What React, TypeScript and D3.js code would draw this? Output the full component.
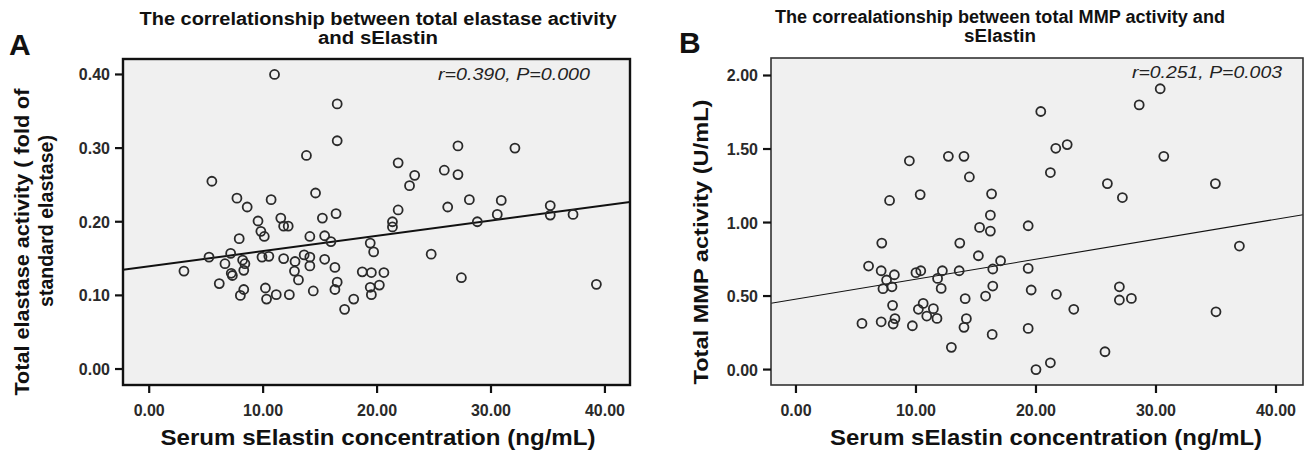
import React from "react";
import * as d3 from "d3";

// ---------- Panel A data: sElastin (ng/mL) vs total elastase activity ----------
const aX = [11.0, 16.5, 16.5, 13.8, 5.5, 7.7, 8.6, 10.7, 14.6, 16.4, 15.2, 11.55, 9.55, 9.8, 10.1, 11.8, 12.2, 7.9, 14.1, 15.4, 15.95, 19.4, 19.7, 5.25, 7.15, 6.65, 7.2, 7.3, 8.2, 8.4, 8.3, 3.05, 6.15, 8.3, 8.0, 9.9, 10.5, 11.8, 12.8, 12.75, 13.1, 13.6, 14.1, 14.1, 15.4, 16.3, 16.5, 16.3, 10.2, 10.3, 11.15, 12.3, 14.4, 17.15, 17.95, 18.7, 19.5, 19.4, 19.5, 20.2, 20.6, 24.75, 27.4, 39.25, 21.35, 21.35, 21.85, 21.85, 23.3, 22.85, 25.9, 27.1, 27.1, 32.1, 28.1, 26.2, 30.9, 30.55, 28.8, 35.2, 35.2, 37.2];
const aY = [0.4, 0.36, 0.31, 0.29, 0.255, 0.232, 0.22, 0.23, 0.239, 0.211, 0.205, 0.205, 0.201, 0.187, 0.18, 0.194, 0.194, 0.177, 0.18, 0.181, 0.173, 0.171, 0.159, 0.152, 0.157, 0.143, 0.13, 0.127, 0.148, 0.143, 0.134, 0.133, 0.116, 0.108, 0.1, 0.152, 0.153, 0.15, 0.146, 0.133, 0.121, 0.155, 0.152, 0.14, 0.149, 0.138, 0.118, 0.108, 0.11, 0.095, 0.101, 0.101, 0.106, 0.081, 0.095, 0.132, 0.131, 0.111, 0.101, 0.114, 0.131, 0.156, 0.124, 0.115, 0.2, 0.193, 0.216, 0.28, 0.263, 0.249, 0.27, 0.264, 0.303, 0.3, 0.23, 0.22, 0.229, 0.21, 0.2, 0.222, 0.209, 0.21];
const aFit = [0.1394, 0.00207]; // intercept, slope
const aTicksX = [0, 10, 20, 30, 40];
const aTicksY = [0, 0.1, 0.2, 0.3, 0.4];

// ---------- Panel B data: sElastin (ng/mL) vs total MMP activity ----------
const bX = [9.45, 12.7, 14.0, 14.45, 7.8, 10.35, 16.3, 16.2, 20.4, 30.35, 28.6, 22.6, 21.65, 21.2, 30.65, 25.95, 27.2, 34.95, 15.3, 16.2, 19.35, 7.15, 13.65, 15.2, 17.05, 6.05, 7.1, 8.2, 7.55, 7.25, 8.0, 10.0, 10.4, 12.2, 11.8, 12.1, 13.6, 16.4, 16.4, 15.8, 14.1, 19.35, 19.6, 8.05, 10.6, 10.2, 11.45, 10.9, 11.75, 5.5, 7.1, 8.25, 8.1, 9.7, 14.2, 14.0, 16.35, 12.95, 19.35, 20.0, 36.95, 21.7, 23.15, 26.95, 26.95, 27.95, 35.0, 25.75, 21.2];
const bY = [1.42, 1.45, 1.45, 1.31, 1.15, 1.19, 1.195, 1.05, 1.755, 1.91, 1.8, 1.53, 1.505, 1.34, 1.45, 1.265, 1.17, 1.265, 0.967, 0.942, 0.978, 0.86, 0.86, 0.774, 0.74, 0.704, 0.672, 0.645, 0.609, 0.55, 0.563, 0.659, 0.672, 0.672, 0.62, 0.552, 0.672, 0.684, 0.568, 0.5, 0.482, 0.688, 0.541, 0.437, 0.45, 0.41, 0.414, 0.364, 0.348, 0.314, 0.325, 0.346, 0.31, 0.298, 0.346, 0.287, 0.239, 0.151, 0.28, 0.0, 0.84, 0.512, 0.41, 0.563, 0.473, 0.484, 0.393, 0.121, 0.046];
const bFit = [0.479, 0.01358];
const bTicksX = [0, 10, 20, 30, 40];
const bTicksY = [0, 0.5, 1.0, 1.5, 2.0];

const FONT = "'Liberation Sans', Arial, Helvetica, sans-serif";

type YTitle = { text: string; x: number; cy: number; len: number };

type PanelProps = {
  xs: number[];
  ys: number[];
  fit: number[];
  xDomain: [number, number];
  yDomain: [number, number];
  left: number;
  right: number;
  top: number;
  bottom: number;
  ticksX: number[];
  ticksY: number[];
  frameW: number;
  frameColor: string;
  lineW: number;
  stat: string;
  statX: number;
  statY: number;
  statLen: number;
  titleLines: string[];
  titleLens: number[];
  titleX: number;
  titleY: number[];
  letter: string;
  letterX: number;
  letterY: number;
  yTitles: YTitle[];
  xTitleX: number;
  xTitleLen: number;
};

function Panel(p: PanelProps) {
  const x = d3.scaleLinear().domain(p.xDomain).range([p.left, p.right]);
  const y = d3.scaleLinear().domain(p.yDomain).range([p.bottom, p.top]);
  const line = d3
    .line<number>()
    .x((v) => x(v))
    .y((v) => y(p.fit[0] + p.fit[1] * v));
  const fitPath = line([p.xDomain[0], p.xDomain[1]]) || "";
  const clipId = "clip-" + p.letter;
  return (
    <g>
      <defs>
        <clipPath id={clipId}>
          <rect x={p.left} y={p.top} width={p.right - p.left} height={p.bottom - p.top} />
        </clipPath>
      </defs>
      <text x={p.letterX} y={p.letterY} fontFamily={FONT} fontWeight="bold" fontSize={30} fill="#111">
        {p.letter}
      </text>
      {p.titleLines.map((t, i) => (
        <text
          key={i}
          x={p.titleX}
          y={p.titleY[i]}
          textAnchor="middle"
          fontFamily={FONT}
          fontWeight="bold"
          fontSize={18}
          fill="#111"
          textLength={p.titleLens[i]}
          lengthAdjust="spacingAndGlyphs"
        >
          {t}
        </text>
      ))}
      <rect x={p.left} y={p.top} width={p.right - p.left} height={p.bottom - p.top} fill="#f0f0f0" />
      <path d={fitPath} stroke="#111" strokeWidth={p.lineW} fill="none" clipPath={`url(#${clipId})`} />
      {p.xs.map((v, i) => (
        <circle key={i} cx={x(v)} cy={y(p.ys[i])} r={4.5} fill="none" stroke="#2a2a2a" strokeWidth={1.8} />
      ))}
      <rect x={p.left} y={p.top} width={p.right - p.left} height={p.bottom - p.top} fill="none" stroke={p.frameColor} strokeWidth={p.frameW} />
      {p.ticksX.map((t) => (
        <g key={"x" + t}>
          <line x1={x(t)} x2={x(t)} y1={p.bottom} y2={p.bottom + 8} stroke="#111" strokeWidth={2.2} />
          <text x={x(t)} y={p.bottom + 31} textAnchor="middle" fontFamily={FONT} fontWeight="bold" fontSize={16} fill="#2a2a2a">
            {d3.format(".2f")(t)}
          </text>
        </g>
      ))}
      {p.ticksY.map((t) => (
        <g key={"y" + t}>
          <line x1={p.left} x2={p.left - 8} y1={y(t)} y2={y(t)} stroke="#111" strokeWidth={2.2} />
          <text x={p.left - 13} y={y(t) + 6} textAnchor="end" fontFamily={FONT} fontWeight="bold" fontSize={16} fill="#2a2a2a">
            {d3.format(".2f")(t)}
          </text>
        </g>
      ))}
      <text
        x={p.statX}
        y={p.statY}
        textAnchor="end"
        fontFamily={FONT}
        fontStyle="italic"
        fontSize={17}
        fill="#222"
        textLength={p.statLen}
        lengthAdjust="spacingAndGlyphs"
      >
        {p.stat}
      </text>
      <text
        x={p.xTitleX}
        y={p.bottom + 60}
        textAnchor="middle"
        fontFamily={FONT}
        fontWeight="bold"
        fontSize={22}
        fill="#111"
        textLength={p.xTitleLen}
        lengthAdjust="spacingAndGlyphs"
      >
        Serum sElastin concentration (ng/mL)
      </text>
      {p.yTitles.map((t, i) => (
        <text
          key={i}
          transform={`translate(${t.x},${t.cy}) rotate(-90)`}
          textAnchor="middle"
          fontFamily={FONT}
          fontWeight="bold"
          fontSize={21}
          fill="#111"
          textLength={t.len}
          lengthAdjust="spacingAndGlyphs"
        >
          {t.text}
        </text>
      ))}
    </g>
  );
}

export default function App() {
  return (
    <svg width={1308} height={462} style={{ position: "absolute", left: 0, top: 0, background: "#fff" }}>
      <rect width={1308} height={462} fill="#fff" />
      <Panel
        xs={aX}
        ys={aY}
        fit={aFit}
        xDomain={[-2.3, 42.2]}
        yDomain={[-0.0217, 0.421]}
        left={123}
        right={630}
        top={59}
        bottom={385}
        ticksX={aTicksX}
        ticksY={aTicksY}
        frameW={2.4}
        frameColor="#111"
        lineW={2}
        stat="r=0.390, P=0.000"
        statX={590}
        statY={80}
        statLen={152}
        titleLines={["The correlationship between total elastase activity", "and sElastin"]}
        titleLens={[477, 120]}
        titleX={378}
        titleY={[25, 44]}
        letter="A"
        letterX={9}
        letterY={55}
        yTitles={[
          { text: "Total elastase activity ( fold of", x: 29, cy: 242, len: 307 },
          { text: "standard elastase)", x: 53, cy: 221, len: 172 },
        ]}
        xTitleX={378}
        xTitleLen={435}
      />
      <Panel
        xs={bX}
        ys={bY}
        fit={bFit}
        xDomain={[-2.08, 42.25]}
        yDomain={[-0.105, 2.119]}
        left={771}
        right={1303}
        top={58}
        bottom={385}
        ticksX={bTicksX}
        ticksY={bTicksY}
        frameW={1.6}
        frameColor="#333"
        lineW={1.1}
        stat="r=0.251, P=0.003"
        statX={1282}
        statY={78}
        statLen={150}
        titleLines={["The correalationship between total MMP activity and", "sElastin"]}
        titleLens={[450, 72]}
        titleX={1000}
        titleY={[23, 42]}
        letter="B"
        letterX={679}
        letterY={53}
        yTitles={[{ text: "Total MMP activity (U/mL)", x: 708, cy: 242, len: 285 }]}
        xTitleX={1046}
        xTitleLen={432}
      />
    </svg>
  );
}
